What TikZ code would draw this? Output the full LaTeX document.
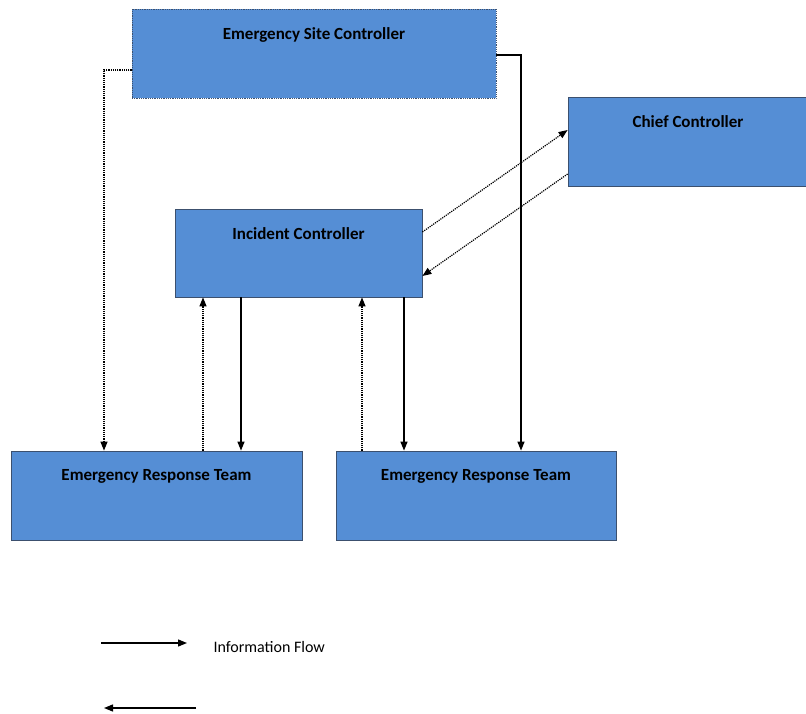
\documentclass[tikz,border=0pt]{standalone}
\usepackage{fontspec}
\setmainfont{Carlito}
\usepackage{xcolor}
\usetikzlibrary{arrows.meta}
\definecolor{boxblue}{RGB}{85,142,213}
\definecolor{boxline}{RGB}{60,80,110}

\begin{document}
\begin{tikzpicture}[x=1pt,y=-1pt,
  box/.style={rectangle,fill=boxblue,draw=boxline,line width=0.8pt,inner sep=0pt,
    label={[font=\bfseries\fontsize{17}{20}\selectfont,anchor=north,yshift=-15pt]north:#1}},
  flow/.style={line width=1.3pt,-{Triangle[length=9pt,width=7pt]}},
  back/.style={line width=1.2pt,densely dotted,-{Triangle[length=9pt,width=7pt]}}]
\useasboundingbox (0,0) rectangle (806,714);
% boxes
\node[box=Emergency Site Controller,densely dotted,minimum width=364pt,minimum height=89pt] (esc) at (314,53.5) {};
\node[box=Chief Controller,minimum width=240pt,minimum height=89pt] (chief) at (688,141.5) {};
\node[box=Incident Controller,minimum width=247pt,minimum height=88pt] (inc) at (298.5,253) {};
\node[box=Emergency Response Team,minimum width=291pt,minimum height=89pt] (ert1) at (156.5,495.5) {};
\node[box=Emergency Response Team,minimum width=280pt,minimum height=89pt] (ert2) at (476,495.5) {};
% links
\draw[back] (esc.west |- 0,70) -| (104,0 |- ert1.north);
\draw[flow] (esc.east |- 0,55) -| (521,0 |- ert2.north);
\draw[back] (inc.east |- 0,232) -- (chief.west |- 0,130);
\draw[back] (chief.west |- 0,174) -- (inc.east |- 0,276);
\draw[back] (203,0 |- ert1.north) -- (203,0 |- inc.south);
\draw[flow] (241,0 |- inc.south) -- (241,0 |- ert1.north);
\draw[back] (362,0 |- ert2.north) -- (362,0 |- inc.south);
\draw[flow] (404,0 |- inc.south) -- (404,0 |- ert2.north);
% legend
\coordinate (l1a) at (101,643);
\coordinate (l1b) at (187,643);
\coordinate (l2a) at (196,708);
\coordinate (l2b) at (104,708);
\draw[flow] (l1a) -- (l1b);
\node[anchor=west,font=\fontsize{16}{19}\selectfont] (legend) at (210,647) {Information Flow};
\draw[flow] (l2a) -- (l2b);
\end{tikzpicture}
\end{document}
